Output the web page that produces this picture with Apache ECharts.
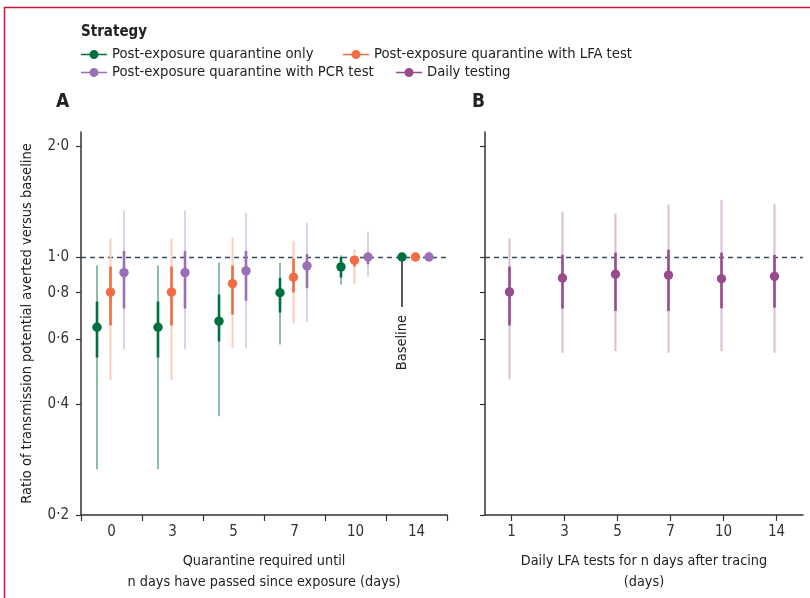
<!DOCTYPE html>
<html>
<head>
<meta charset="utf-8">
<script src="https://cdn.jsdelivr.net/npm/echarts@6/dist/echarts.min.js"></script>
<style>
  html, body { margin: 0; padding: 0; background: #fff; }
  #chart { width: 810px; height: 598px; }
</style>
</head>
<body>
<div id="chart"></div>
<script>
// categories
const quarantineDays = ["0", "3", "5", "7", "10", "14"];
const testingDays = ["1", "3", "5", "7", "10", "14"];
const yTicks = [0.2, 0.4, 0.6, 0.8, 1.0, 2.0];
const referenceRatio = 1.0;

// each row: [median, lo50, hi50, lo95, hi95]
const quarantineOnly = [
  [0.645, 0.534, 0.757, 0.266, 0.948],
  [0.645, 0.534, 0.757, 0.266, 0.948],
  [0.670, 0.590, 0.791, 0.370, 0.964],
  [0.800, 0.707, 0.877, 0.579, 0.964],
  [0.940, 0.879, 1.000, 0.842, 1.010],
  [1.000, 1.000, 1.000, 1.000, 1.000],
];
const quarantineLFA = [
  [0.803, 0.652, 0.942, 0.465, 1.122],
  [0.803, 0.652, 0.942, 0.465, 1.122],
  [0.847, 0.698, 0.948, 0.568, 1.128],
  [0.881, 0.801, 0.990, 0.661, 1.106],
  [0.980, 0.942, 1.000, 0.843, 1.048],
  [1.000, 1.000, 1.000, 1.000, 1.030],
];
const quarantinePCR = [
  [0.907, 0.725, 1.038, 0.562, 1.336],
  [0.907, 0.725, 1.038, 0.562, 1.336],
  [0.917, 0.762, 1.038, 0.568, 1.316],
  [0.946, 0.823, 1.019, 0.668, 1.236],
  [1.000, 0.955, 1.008, 0.884, 1.170],
  [1.000, 1.000, 1.000, 1.000, 1.040],
];
const dailyTesting = [
  [0.804, 0.652, 0.942, 0.466, 1.122],
  [0.877, 0.725, 1.013, 0.550, 1.327],
  [0.898, 0.714, 1.027, 0.556, 1.310],
  [0.893, 0.714, 1.046, 0.550, 1.386],
  [0.873, 0.726, 1.027, 0.556, 1.428],
  [0.886, 0.729, 1.013, 0.550, 1.390],
];
const baselineLabelEnd = 0.732;

const FONT = "'Liberation Sans Narrow', 'DejaVu Sans Condensed', sans-serif";
const AXIS_COLOR = "#333";
const NAMES = [
  "Post-exposure quarantine only",
  "Post-exposure quarantine with LFA test",
  "Post-exposure quarantine with PCR test",
  "Daily testing",
];
const MAIN = ["#00703f", "#f26d45", "#9a6fb7", "#984b8c"];
const THIN = ["#8dbfa2", "#fccdb9", "#ddd1ea", "#dbbcd5"];
const ICON = "path://M0,4.3L26,4.3L26,5.7L0,5.7Z M8.5,5A4.5,4.5 0 1,1 17.5,5A4.5,4.5 0 1,1 8.5,5Z";

const lg = Math.log10;
const Y_MIN = lg(0.2);
const toRows = (rows) => rows.map((r, i) => [i].concat(r.map(lg)));
const fmt = (v) => Math.pow(10, v).toFixed(1).replace(".", "·");

function barRenderer(offset, main, thin) {
  return function (params, api) {
    const idx = api.value(0);
    const x = api.coord([idx, api.value(1)])[0] + offset;
    const y = (k) => api.coord([idx, api.value(k)])[1];
    return {
      type: "group",
      children: [
        { type: "line", shape: { x1: x, y1: y(4), x2: x, y2: y(5) }, style: { stroke: thin, lineWidth: 2 } },
        { type: "line", shape: { x1: x, y1: y(2), x2: x, y2: y(3) }, style: { stroke: main, lineWidth: 2.6 } },
        { type: "circle", shape: { cx: x, cy: y(1), r: 4.7 }, style: { fill: main } },
      ],
    };
  };
}

function barSeries(i, rows, axisIndex, offset) {
  return {
    name: NAMES[i],
    type: "custom",
    xAxisIndex: axisIndex,
    yAxisIndex: axisIndex,
    itemStyle: { color: MAIN[i] },
    renderItem: barRenderer(offset, MAIN[i], THIN[i]),
    encode: { x: 0, y: 1 },
    data: toRows(rows),
    z: 3,
  };
}

// dashed reference line across the whole grid
function refLine(axisIndex) {
  return {
    type: "custom",
    xAxisIndex: axisIndex,
    yAxisIndex: axisIndex,
    silent: true,
    z: 2,
    data: [[0, lg(referenceRatio)]],
    renderItem: function (params, api) {
      const y = Math.round(api.coord([0, api.value(1)])[1]) + 0.5;
      const cs = params.coordSys;
      return {
        type: "line",
        shape: { x1: cs.x, y1: y, x2: cs.x + cs.width, y2: y },
        style: { stroke: "#35495a", lineWidth: 1.4, lineDash: [5, 4], fill: null },
      };
    },
  };
}

// tick marks under the labels of panel B
const labelTicks = {
  type: "custom",
  xAxisIndex: 1,
  yAxisIndex: 1,
  silent: true,
  clip: false,
  z: 5,
  data: testingDays.map((d, i) => [i, Y_MIN]),
  renderItem: function (params, api) {
    const p = api.coord([api.value(0), api.value(1)]);
    return {
      type: "line",
      shape: { x1: p[0], y1: p[1], x2: p[0], y2: p[1] + 6 },
      style: { stroke: AXIS_COLOR, lineWidth: 1.2 },
    };
  },
};

function yAxis(gridIndex, withLabels) {
  return {
    type: "value",
    gridIndex: gridIndex,
    min: Y_MIN,
    max: lg(2.18),
    splitLine: { show: false },
    axisLine: { show: true, onZero: false, lineStyle: { color: AXIS_COLOR, width: 1.5 } },
    axisTick: { show: true, length: 5, customValues: yTicks.map(lg), lineStyle: { color: AXIS_COLOR, width: 1.2 } },
    axisLabel: {
      show: withLabels,
      customValues: yTicks.map(lg),
      formatter: fmt,
      margin: 12,
      fontFamily: FONT,
      fontSize: 15,
      color: AXIS_COLOR,
    },
    name: withLabels ? "Ratio of transmission potential averted versus baseline" : "",
    nameLocation: "middle",
    nameGap: 46,
    nameTextStyle: { fontFamily: FONT, fontSize: 14.5, color: "#222" },
  };
}

function xAxis(gridIndex, cats, name, showTicks) {
  return {
    type: "category",
    gridIndex: gridIndex,
    data: cats,
    axisLine: { onZero: false, lineStyle: { color: AXIS_COLOR, width: 1.5 } },
    axisTick: { show: showTicks, interval: 0, length: 6, lineStyle: { color: AXIS_COLOR, width: 1.2 } },
    axisLabel: { interval: 0, margin: 10, fontFamily: FONT, fontSize: 15, color: AXIS_COLOR },
    name: name,
    nameLocation: "middle",
    nameGap: 36,
    nameTextStyle: { fontFamily: FONT, fontSize: 14.3, color: "#222", lineHeight: 21 },
  };
}

const legendItem = (name, left, top) => ({
  left: left,
  top: top,
  padding: 0,
  itemWidth: 26,
  itemHeight: 10,
  itemGap: 6,
  icon: ICON,
  selectedMode: false,
  data: [name],
  textStyle: { fontFamily: FONT, fontSize: 14.7, color: "#222" },
});

const chart = echarts.init(document.getElementById("chart"));
chart.setOption({
  animation: false,
  title: {
    text: "Strategy",
    left: 76,
    top: 20,
    textStyle: { fontFamily: FONT, fontSize: 15, fontWeight: "bold", color: "#222" },
  },
  legend: [
    legendItem(NAMES[0], 81, 47),
    legendItem(NAMES[1], 343, 47),
    legendItem(NAMES[2], 81, 65),
    legendItem(NAMES[3], 396, 65),
  ],
  grid: [
    { left: 81, top: 132, width: 366, height: 383 },
    { left: 485, top: 132, width: 318, height: 383 },
  ],
  xAxis: [
    xAxis(0, quarantineDays, "Quarantine required until\nn days have passed since exposure (days)", true),
    xAxis(1, testingDays, "Daily LFA tests for n days after tracing\n(days)", false),
  ],
  yAxis: [yAxis(0, true), yAxis(1, false)],
  graphic: [
    { type: "line", shape: { x1: 4, y1: 7.5, x2: 810, y2: 7.5 }, style: { stroke: "#c8173f", lineWidth: 1.5 } },
    { type: "line", shape: { x1: 4.5, y1: 7, x2: 4.5, y2: 598 }, style: { stroke: "#c8173f", lineWidth: 1.5 } },
    { type: "text", left: 56, top: 93, style: { text: "A", font: "bold 19px " + FONT, fill: "#222" } },
    { type: "text", left: 472, top: 93, style: { text: "B", font: "bold 19px " + FONT, fill: "#222" } },
  ],
  series: [
    refLine(0),
    refLine(1),
    labelTicks,
    barSeries(0, quarantineOnly, 0, -14.5),
    barSeries(1, quarantineLFA, 0, -1),
    barSeries(2, quarantinePCR, 0, 12.5),
    barSeries(3, dailyTesting, 1, -2),
    {
      type: "custom",
      xAxisIndex: 0,
      yAxisIndex: 0,
      silent: true,
      z: 2,
      data: [[5, lg(1), lg(baselineLabelEnd)]],
      renderItem: function (params, api) {
        const top = api.coord([api.value(0), api.value(1)]);
        const bottom = api.coord([api.value(0), api.value(2)]);
        const x = top[0] - 14.5;
        return {
          type: "group",
          children: [
            { type: "line", shape: { x1: x, y1: top[1], x2: x, y2: bottom[1] }, style: { stroke: "#222", lineWidth: 1.5 } },
            {
              type: "text",
              x: x,
              y: bottom[1] + 8,
              rotation: Math.PI / 2,
              style: { text: "Baseline", font: "14.5px " + FONT, fill: "#222", align: "right", verticalAlign: "middle" },
            },
          ],
        };
      },
    },
  ],
});
</script>
</body>
</html>
